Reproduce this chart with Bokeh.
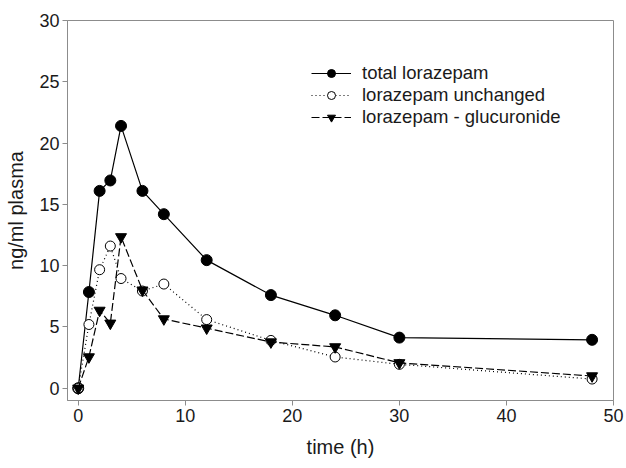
from bokeh.plotting import figure
from bokeh.models import Legend, LegendItem, Range1d, FixedTicker
from bokeh.embed import file_html
from bokeh.resources import INLINE

time_h = [0, 1, 2, 3, 4, 6, 8, 12, 18, 24, 30, 48]
total = [0, 7.85, 16.1, 16.95, 21.4, 16.1, 14.2, 10.45, 7.6, 5.95, 4.13, 3.95]
unchanged = [0, 5.2, 9.67, 11.6, 8.95, 7.93, 8.5, 5.6, 3.9, 2.55, 1.95, 0.75]
glucuronide = [0, 2.55, 6.35, 5.3, 12.35, 8.0, 5.65, 4.9, 3.77, 3.37, 2.07, 1.0]

x_ticks = [0, 10, 20, 30, 40, 50]
y_ticks = [0, 5, 10, 15, 20, 25, 30]

FONT = "Liberation Sans"
GRAY = "#8c8c8c"

p = figure(width=626, height=468, output_backend="svg", toolbar_location=None,
           x_range=Range1d(-1, 50), y_range=Range1d(-1, 30),
           min_border_left=67, min_border_right=13, min_border_top=20, min_border_bottom=68)
p.grid.visible = False
p.outline_line_color = GRAY
p.outline_line_width = 1

for ax in (p.xaxis[0], p.yaxis[0]):
    ax.axis_line_color = GRAY
    ax.major_tick_line_color = GRAY
    ax.minor_tick_line_color = None
    ax.major_tick_out = 5
    ax.major_tick_in = 0
    ax.major_label_text_font = FONT
    ax.major_label_text_font_size = "18px"
    ax.major_label_text_color = "#1a1a1a"
    ax.axis_label_text_font = FONT
    ax.axis_label_text_font_size = "20px"
    ax.axis_label_text_font_style = "normal"
    ax.axis_label_text_color = "#1a1a1a"
    ax.major_label_standoff = 3

p.xaxis[0].ticker = FixedTicker(ticks=x_ticks)
p.yaxis[0].ticker = FixedTicker(ticks=y_ticks)
p.xaxis[0].axis_label = "time (h)"
p.yaxis[0].axis_label = "ng/ml plasma"
p.xaxis[0].axis_label_standoff = 11
p.yaxis[0].axis_label_standoff = 9

l1 = p.line(time_h, total, line_color="black", line_width=1.2)
m1 = p.scatter(time_h, total, marker="circle", size=11, fill_color="black", line_color="black")

l2 = p.line(time_h, unchanged, line_color="black", line_width=1.2, line_dash="1 3")
m2 = p.scatter(time_h, unchanged, marker="circle", size=10, fill_color="white", line_color="black", line_width=1)

l3 = p.line(time_h, glucuronide, line_color="black", line_width=1.2, line_dash="8 3")
m3 = p.scatter(time_h, glucuronide, marker="inverted_triangle", size=11, fill_color="black", line_color="black")

legend = Legend(items=[
    LegendItem(label="total lorazepam", renderers=[l1, m1]),
    LegendItem(label="lorazepam unchanged", renderers=[l2, m2]),
    LegendItem(label="lorazepam - glucuronide", renderers=[l3, m3]),
], location=(244, 272))
legend.border_line_color = None
legend.background_fill_alpha = 0
legend.label_text_font = FONT
legend.label_text_font_size = "18.5px"
legend.label_text_color = "#1a1a1a"
legend.glyph_width = 40
legend.glyph_height = 20
legend.spacing = 0
legend.padding = 5
legend.label_standoff = 11
p.add_layout(legend, "center")

open("out.html", "w").write(file_html(p, INLINE))
